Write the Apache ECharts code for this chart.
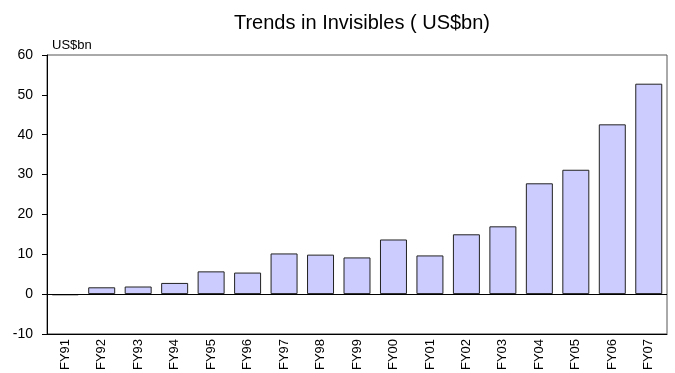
<!DOCTYPE html>
<html>
<head>
<meta charset="utf-8">
<script src="https://cdn.jsdelivr.net/npm/echarts@6/dist/echarts.min.js"></script>
<style>
  html, body { margin: 0; padding: 0; background: #fff; }
  #chart { width: 675px; height: 373px; }
</style>
</head>
<body>
<div id="chart"></div>
<script>
const years = ['FY91', 'FY92', 'FY93', 'FY94', 'FY95', 'FY96', 'FY97', 'FY98', 'FY99',
  'FY00', 'FY01', 'FY02', 'FY03', 'FY04', 'FY05', 'FY06', 'FY07'];
const invisibles = [-0.3, 1.7, 1.9, 2.8, 5.7, 5.4, 10.2, 9.9, 9.2,
  13.7, 9.7, 15.0, 17.0, 27.8, 31.2, 42.6, 52.8];

const chart = echarts.init(document.getElementById('chart'));
const font = 'Liberation Sans, Arial, sans-serif';

chart.setOption({
  animation: false,
  title: {
    text: 'Trends in Invisibles ( US$bn)',
    left: 357,
    top: 8,
    textAlign: 'center',
    textStyle: { fontFamily: font, fontSize: 20, fontWeight: 'normal', color: '#000' },
  },
  grid: {
    left: 47,
    right: 8,
    top: 55,
    bottom: 38,
    show: true,
    borderColor: '#555',
    borderWidth: 1,
  },
  xAxis: {
    type: 'category',
    data: years,
    axisLine: { onZero: false, lineStyle: { color: '#000', width: 1 } },
    axisTick: { show: false },
    axisLabel: {
      rotate: 90,
      margin: 5,
      interval: 0,
      color: '#000',
      fontFamily: font,
      fontSize: 13,
    },
  },
  yAxis: {
    type: 'value',
    min: -10,
    max: 60,
    interval: 10,
    name: 'US$bn',
    nameLocation: 'end',
    nameGap: 3,
    nameTextStyle: { fontFamily: font, fontSize: 13, color: '#000', align: 'left', padding: [0, 0, 0, 5] },
    axisLine: { show: true, lineStyle: { color: '#000', width: 1 } },
    axisTick: { show: true, inside: false, length: 5, lineStyle: { color: '#000' } },
    splitLine: { show: false },
    axisLabel: {
      margin: 14,
      color: '#000',
      fontFamily: font,
      fontSize: 14,
    },
  },
  series: [
    {
      type: 'bar',
      data: invisibles,
      barCategoryGap: '26%',
      itemStyle: { color: '#ccccff', borderColor: '#222', borderWidth: 1 },
      markLine: {
        silent: true,
        symbol: 'none',
        label: { show: false },
        lineStyle: { color: '#000', width: 1, type: 'solid' },
        data: [{ yAxis: 0 }],
      },
    },
  ],
});
</script>
</body>
</html>
